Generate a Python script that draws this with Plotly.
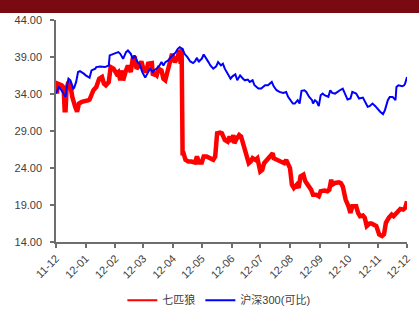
import plotly.graph_objects as go

# 七匹狼 (red)
red_dates = ["2011-12-02","2011-12-03","2011-12-07","2011-12-09","2011-12-10","2011-12-11","2011-12-12","2011-12-14","2011-12-16","2011-12-18","2011-12-21","2011-12-23","2011-12-25","2011-12-28",
             "2012-01-04","2012-01-05","2012-01-09","2012-01-12","2012-01-15","2012-01-18","2012-01-20","2012-01-22","2012-01-25","2012-01-27","2012-01-30",
             "2012-02-02","2012-02-04","2012-02-06","2012-02-07","2012-02-09","2012-02-12","2012-02-14","2012-02-17","2012-02-19","2012-02-21","2012-02-23","2012-02-26","2012-02-28",
             "2012-03-01","2012-03-04","2012-03-06","2012-03-10","2012-03-11","2012-03-13","2012-03-15","2012-03-17","2012-03-20","2012-03-22","2012-03-24","2012-03-27","2012-03-29","2012-03-31",
             "2012-04-01","2012-04-03","2012-04-05","2012-04-06","2012-04-08","2012-04-09","2012-04-10","2012-04-11","2012-04-12","2012-04-14","2012-04-17","2012-04-20","2012-04-24","2012-04-26","2012-04-28",
             "2012-05-01","2012-05-03","2012-05-06","2012-05-09","2012-05-13","2012-05-15","2012-05-17","2012-05-20","2012-05-22","2012-05-25","2012-05-28","2012-05-30",
             "2012-06-01","2012-06-03","2012-06-04","2012-06-06","2012-06-09","2012-06-11","2012-06-13","2012-06-16","2012-06-19","2012-06-21","2012-06-23","2012-06-26","2012-06-28",
             "2012-07-01","2012-07-03","2012-07-05","2012-07-09","2012-07-11","2012-07-14","2012-07-15","2012-07-19","2012-07-22","2012-07-26","2012-07-28",
             "2012-08-01","2012-08-03","2012-08-05","2012-08-08","2012-08-10","2012-08-12","2012-08-15","2012-08-17","2012-08-20","2012-08-23","2012-08-25","2012-08-28","2012-08-31",
             "2012-09-02","2012-09-06","2012-09-09","2012-09-11","2012-09-13","2012-09-14","2012-09-17","2012-09-21","2012-09-23","2012-09-25","2012-09-28",
             "2012-10-01","2012-10-03","2012-10-05","2012-10-09","2012-10-11","2012-10-13","2012-10-16","2012-10-18","2012-10-20","2012-10-23","2012-10-25","2012-10-28","2012-10-30",
             "2012-11-02","2012-11-05","2012-11-07","2012-11-09","2012-11-12","2012-11-15","2012-11-17","2012-11-20","2012-11-22","2012-11-24","2012-11-27","2012-11-29","2012-11-30","2012-12-01"]
red_values = [34.06,35.40,35.18,34.86,31.82,31.82,34.73,35.63,35.18,33.61,32.27,31.60,32.71,32.94,
              33.16,33.25,34.51,34.95,36.07,36.30,35.40,35.18,35.63,37.64,37.42,
              36.75,36.97,35.85,37.19,35.85,37.19,37.86,36.97,38.76,39.07,37.42,37.86,38.40,
              37.42,36.97,38.09,38.18,36.52,36.75,36.52,37.42,37.19,36.07,35.85,37.42,38.31,39.43,
              38.98,38.31,38.76,39.21,39.88,38.09,40.10,26.00,26.00,25.10,24.88,24.88,24.74,25.55,24.74,
              24.74,25.55,25.55,25.33,25.10,25.55,28.68,28.77,28.68,27.79,27.56,28.24,
              27.56,28.46,27.34,27.88,28.46,28.24,27.34,26.09,24.65,24.88,25.33,25.10,25.33,
              23.53,23.75,24.65,25.19,25.55,26.00,25.33,25.10,24.88,24.65,25.10,
              23.98,21.74,21.30,21.74,21.30,22.86,23.09,22.19,21.74,21.07,20.40,20.40,20.18,
              20.85,20.94,20.85,21.07,22.41,21.74,21.97,22.06,21.97,21.52,19.73,
              18.83,17.94,18.83,18.83,17.94,17.49,17.58,17.26,16.15,16.50,16.50,16.24,16.15,
              15.03,14.80,15.03,16.59,17.26,17.71,17.49,17.94,18.16,18.47,18.38,18.61,19.00,19.50]

# 沪深300(可比) (blue)
blue_dates = ["2011-12-01","2011-12-04","2011-12-05","2011-12-08","2011-12-11","2011-12-12","2011-12-14","2011-12-16","2011-12-19","2011-12-20","2011-12-22","2011-12-24","2011-12-26","2011-12-30",
              "2012-01-01","2012-01-05","2012-01-07","2012-01-11","2012-01-12","2012-01-16","2012-01-21","2012-01-25","2012-01-26","2012-01-30",
              "2012-02-02","2012-02-04","2012-02-06","2012-02-09","2012-02-12","2012-02-14","2012-02-17","2012-02-19","2012-02-21","2012-02-24","2012-02-26","2012-02-29",
              "2012-03-03","2012-03-05","2012-03-08","2012-03-11","2012-03-12","2012-03-15","2012-03-18","2012-03-20","2012-03-22","2012-03-24","2012-03-27","2012-03-30",
              "2012-04-01","2012-04-04","2012-04-06","2012-04-08","2012-04-11","2012-04-13","2012-04-16","2012-04-19","2012-04-22","2012-04-24","2012-04-26","2012-04-28","2012-04-29",
              "2012-05-01","2012-05-03","2012-05-05","2012-05-08","2012-05-10","2012-05-13","2012-05-16","2012-05-18","2012-05-21","2012-05-23","2012-05-25","2012-05-28","2012-05-31",
              "2012-06-02","2012-06-05","2012-06-07","2012-06-10","2012-06-13","2012-06-15","2012-06-18","2012-06-20","2012-06-23","2012-06-25","2012-06-29",
              "2012-07-02","2012-07-06","2012-07-09","2012-07-13","2012-07-15","2012-07-18","2012-07-21","2012-07-25","2012-07-28","2012-07-30",
              "2012-08-02","2012-08-04","2012-08-06","2012-08-09","2012-08-11","2012-08-13","2012-08-16","2012-08-18","2012-08-21","2012-08-24","2012-08-25","2012-08-27","2012-08-29","2012-08-31",
              "2012-09-02","2012-09-04","2012-09-06","2012-09-10","2012-09-12","2012-09-14","2012-09-17","2012-09-19","2012-09-22","2012-09-25","2012-09-27","2012-09-30",
              "2012-10-03","2012-10-05","2012-10-09","2012-10-12","2012-10-16","2012-10-18","2012-10-21","2012-10-23","2012-10-26","2012-10-29","2012-10-31",
              "2012-11-03","2012-11-06","2012-11-08","2012-11-11","2012-11-13","2012-11-16","2012-11-19","2012-11-20","2012-11-22","2012-11-26","2012-11-28","2012-11-29","2012-12-01"]
blue_values = [34.06,34.95,34.86,34.28,33.61,34.73,36.07,35.85,34.73,34.86,35.63,36.97,37.10,36.75,
               36.52,36.21,37.19,37.42,37.64,37.73,37.64,37.86,39.21,39.43,
               39.52,39.66,39.43,38.76,39.66,39.88,39.43,38.76,39.21,38.31,38.09,36.97,
               36.21,36.75,37.42,36.97,37.19,37.42,37.86,38.31,37.86,38.31,38.54,38.98,
               39.21,39.66,40.10,40.33,40.10,39.43,38.98,38.40,38.18,38.45,38.89,38.31,38.54,
               38.76,39.34,38.98,38.31,37.86,37.42,37.73,38.31,37.86,38.09,37.42,36.83,36.07,
               36.39,36.66,35.85,36.52,36.07,35.85,35.94,35.63,35.85,35.18,34.73,
               34.73,35.18,35.18,35.63,35.04,34.51,34.28,34.15,34.28,33.61,
               33.16,32.71,32.71,33.16,32.71,34.42,34.51,34.28,33.61,33.16,32.71,33.16,32.94,32.36,
               33.84,34.06,33.84,33.61,34.51,34.15,34.06,34.28,34.51,34.73,34.06,33.25,
               33.39,34.28,34.06,33.39,33.52,32.94,32.27,32.36,32.71,32.36,32.04,
               31.60,31.28,31.82,33.16,33.61,33.61,33.16,34.95,35.18,35.04,35.18,35.40,36.30]

tick_vals = ["2011-12-01","2012-01-01","2012-02-01","2012-03-01","2012-04-01","2012-05-01","2012-06-01",
             "2012-07-01","2012-08-01","2012-09-01","2012-10-01","2012-11-01","2012-12-01"]
tick_text = ["11-12","12-01","12-02","12-03","12-04","12-05","12-06","12-07","12-08","12-09","12-10","12-11","12-12"]
y_ticks = [14, 19, 24, 29, 34, 39, 44]

RED = "#FF0000"
BLUE = "#0000FF"

fig = go.Figure()
fig.add_trace(go.Scatter(x=red_dates, y=red_values, mode="lines", name="七匹狼",
                         line=dict(color=RED, width=4.5), showlegend=False, legendgroup="a"))
fig.add_trace(go.Scatter(x=blue_dates, y=blue_values, mode="lines", name="沪深300(可比)",
                         line=dict(color=BLUE, width=2), showlegend=False, legendgroup="b"))
# legend entries (thin line samples, as in the reference)
fig.add_trace(go.Scatter(x=[None], y=[None], mode="lines", name="七匹狼",
                         line=dict(color=RED, width=2), legendgroup="a"))
fig.add_trace(go.Scatter(x=[None], y=[None], mode="lines", name="沪深300(可比)",
                         line=dict(color=BLUE, width=2), legendgroup="b"))

axis_color = "#6e6e6e"
fig.update_layout(
    width=419, height=316,
    margin=dict(l=56, r=12, t=20, b=74, autoexpand=False),
    paper_bgcolor="white", plot_bgcolor="white",
    font=dict(family="Liberation Sans, Arial, Noto Sans CJK SC", size=11, color="#404040"),
    showlegend=True,
    legend=dict(orientation="h", x=0.464, xanchor="center", yref="container", y=0.05, yanchor="middle",
                font=dict(family="Liberation Sans, Noto Sans CJK SC", size=11, color="#404040"),
                tracegroupgap=0),
    xaxis=dict(type="date", range=["2011-12-01", "2012-12-01"], automargin=False,
               tickmode="array", tickvals=tick_vals, ticktext=tick_text, tickangle=-45,
               showgrid=False, zeroline=False, showline=True, linecolor=axis_color, linewidth=1.5,
               ticks="outside", ticklen=4, tickcolor=axis_color, tickwidth=1.5,
               tickfont=dict(size=11, color="#404040")),
    yaxis=dict(range=[14, 44], tickmode="array", tickvals=y_ticks, automargin=False,
               ticktext=[f"{v:.2f}" for v in y_ticks], ticklabelstandoff=6,
               showgrid=False, zeroline=False, showline=True, linecolor=axis_color, linewidth=1.5,
               ticks="outside", ticklen=4, tickcolor=axis_color, tickwidth=1.5,
               tickfont=dict(size=11, color="#404040")),
    shapes=[dict(type="rect", xref="paper", yref="paper", x0=-0.3, x1=1.2, y0=1.0315, y1=1.2,
                 fillcolor="#7A0A12", line=dict(width=0), layer="above")],
)

fig.write_html("out.html", config={"displayModeBar": False},
               post_script="document.body.style.margin='0';")
